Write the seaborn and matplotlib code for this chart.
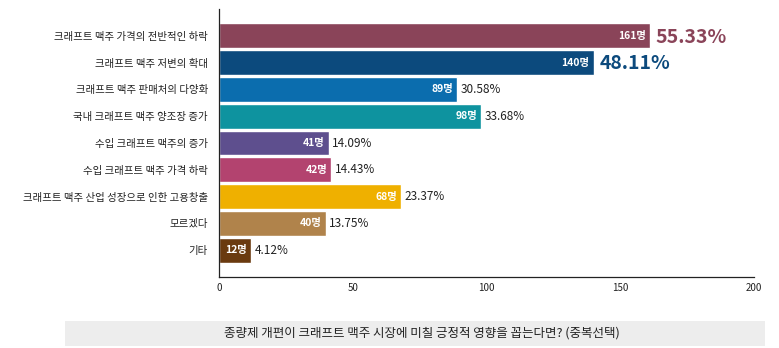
import matplotlib
matplotlib.use("Agg")
import matplotlib.pyplot as plt
import matplotlib.patches as mpatches
import seaborn as sns
import pandas as pd

categories = [
    "크래프트 맥주 가격의 전반적인 하락",
    "크래프트 맥주 저변의 확대",
    "크래프트 맥주 판매처의 다양화",
    "국내 크래프트 맥주 양조장 증가",
    "수입 크래프트 맥주의 증가",
    "수입 크래프트 맥주 가격 하락",
    "크래프트 맥주 산업 성장으로 인한 고용창출",
    "모르겠다",
    "기타",
]
counts = [161, 140, 89, 98, 41, 42, 68, 40, 12]
percents = ["55.33%", "48.11%", "30.58%", "33.68%", "14.09%", "14.43%", "23.37%", "13.75%", "4.12%"]
colors = ["#8A4459", "#0C4A7D", "#0B6DAE", "#0E939F", "#5E4F8E", "#B3436F", "#EFB000", "#B0834B", "#6A3A0F"]
caption = "종량제 개편이 크래프트 맥주 시장에 미칠 긍정적 영향을 꼽는다면? (중복선택)"
xticks = [0, 50, 100, 150, 200]

sns.set_theme(style="white")
plt.rcParams["font.family"] = ["Noto Sans CJK KR", "DejaVu Sans"]

df = pd.DataFrame({"category": categories, "count": counts})

fig = plt.figure(figsize=(7.79, 3.48), dpi=100)
ax = fig.add_axes([219 / 779, 1 - 277 / 348, (754 - 219) / 779, (277 - 9) / 348])

sns.barplot(data=df, y="category", x="count", hue="category", palette=colors,
            order=categories, hue_order=categories, legend=False, ax=ax,
            width=0.92, saturation=1, orient="h")

ax.set_xlim(0, 200)
ax.set_ylim(9.0, -1.0)
ax.set_xticks(xticks)
ax.set_xticklabels([str(t) for t in xticks], fontsize=7, color="#222222")
ax.set_xlabel("")
ax.set_ylabel("")
ax.tick_params(axis="x", direction="in", length=5, width=0.8, color="#222222", pad=4)
ax.tick_params(axis="y", length=0, labelsize=7.5, labelcolor="#222222", pad=8)
for s in ["top", "right"]:
    ax.spines[s].set_visible(False)
for s in ["left", "bottom"]:
    ax.spines[s].set_color("#222222")
    ax.spines[s].set_linewidth(0.9)

for i, (c, p, col) in enumerate(zip(counts, percents, colors)):
    ax.text(c - 1.5, i, f"{c}명", ha="right", va="center", color="white",
            fontsize=7.5, fontweight="bold")
    if i < 2:
        ax.text(c + 2.2, i + 0.05, p, ha="left", va="center", color=col,
                fontsize=14, fontweight="bold")
    else:
        ax.text(c + 1.2, i, p, ha="left", va="center", color="#222222", fontsize=8.5)

rect = mpatches.Rectangle((65 / 779, 1 - 346 / 348), 700 / 779, 25 / 348,
                          transform=fig.transFigure, facecolor="#EDEDED",
                          edgecolor="none", zorder=0)
fig.patches.append(rect)
fig.text(422 / 779, 1 - 333 / 348, caption, ha="center", va="center",
         fontsize=9, color="#222222")

fig.savefig("out.png", dpi=100)
